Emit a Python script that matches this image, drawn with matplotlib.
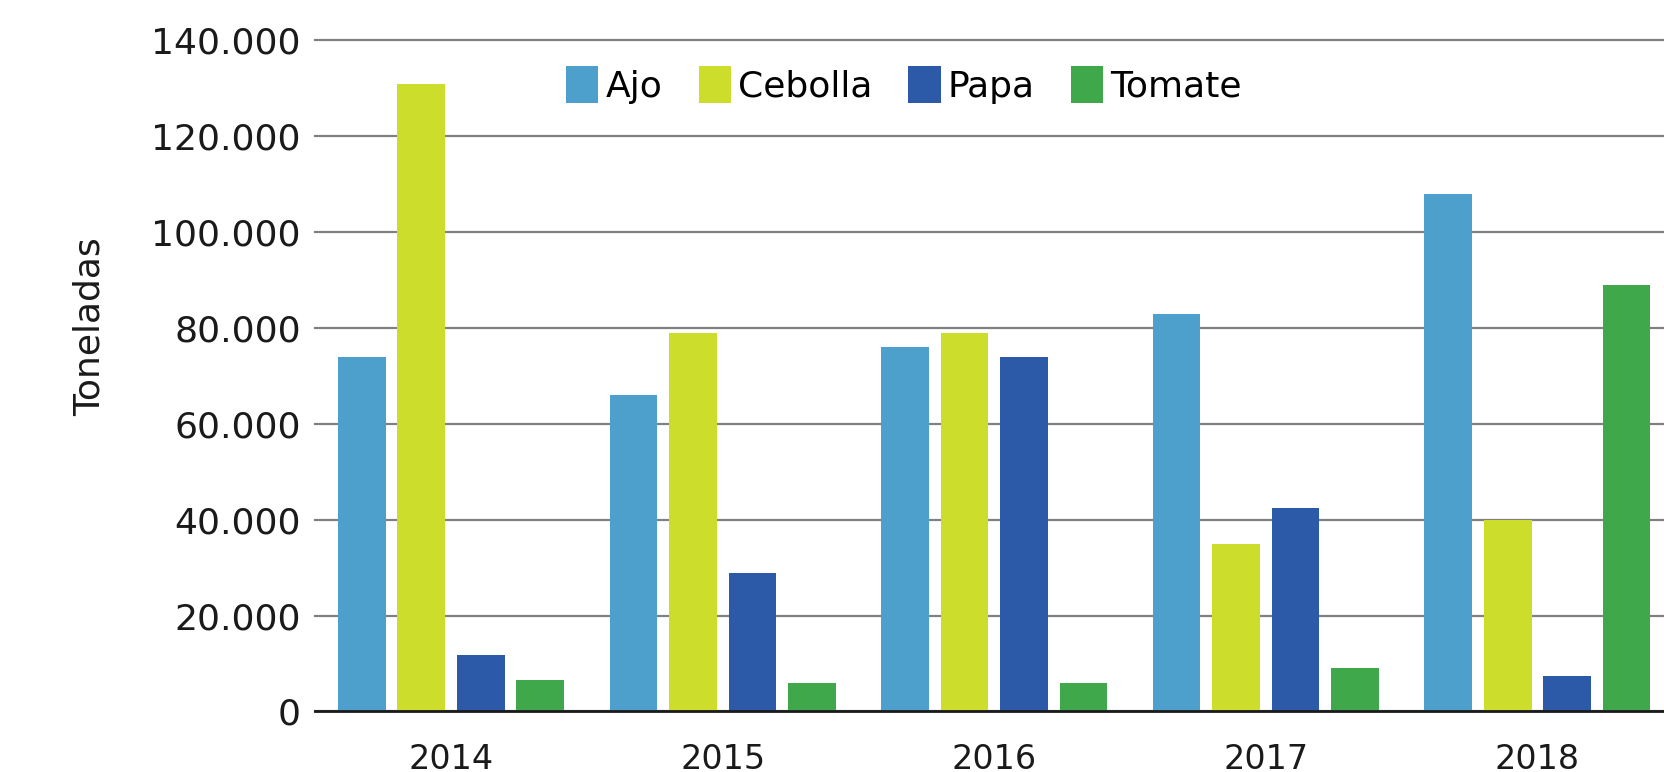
import matplotlib
matplotlib.use("Agg")
import matplotlib.pyplot as plt
import numpy as np
from matplotlib.ticker import FuncFormatter

years = ["2014", "2015", "2016", "2017", "2018"]
ajo = [74000, 66000, 76000, 83000, 108000]
cebolla = [131000, 79000, 79000, 35000, 40000]
papa = [11700, 28800, 74000, 42500, 7300]
tomate = [6600, 6000, 6000, 9100, 89000]

series = [("Ajo", ajo, "#4da0cb"),
          ("Cebolla", cebolla, "#ccdd2b"),
          ("Papa", papa, "#2c5aa8"),
          ("Tomate", tomate, "#3fa84a")]

plt.rcParams['font.family'] = ['DejaVu Sans']

fig = plt.figure(figsize=(16.65, 7.72), dpi=100)
ax = fig.add_axes([0.1894, 0.0784, 0.8106, 0.8693])

x = np.arange(len(years))
width = 0.176
pitch = 0.219
for i, (name, vals, color) in enumerate(series):
    ax.bar(x + (i - 1.5) * pitch, vals, width, color=color, label=name, zorder=3)

ax.set_xlim(-0.5, 4.47)
ax.set_ylim(0, 140000)
ax.set_yticks(np.arange(0, 140001, 20000))
ax.yaxis.set_major_formatter(FuncFormatter(lambda v, p: f"{int(v):,}".replace(",", ".")))
ax.set_xticks(x)
ax.set_xticklabels(years)

ax.grid(axis="y", color="#808080", linewidth=1.6, zorder=0)
for gl in ax.get_ygridlines():
    gl.set_clip_on(False)
for s in ["top", "right", "left"]:
    ax.spines[s].set_visible(False)
ax.spines["bottom"].set_color("#1a1a1a")
ax.spines["bottom"].set_linewidth(2)
ax.spines["bottom"].set_zorder(4)

ax.tick_params(axis="both", length=0, labelsize=26, colors="#1a1a1a")
ax.tick_params(axis="x", pad=23, labelsize=24)
ax.tick_params(axis="y", pad=10.5)

ax.set_ylabel("Toneladas", fontsize=26, color="#1a1a1a")
ax.yaxis.set_label_coords(-0.155, 0.574)

ax.legend(loc="upper center", bbox_to_anchor=(904 / 1665, 1 - 66 / 772),
          bbox_transform=fig.transFigure, ncol=4, frameon=False, fontsize=26,
          handlelength=0.89, handleheight=1.2, handletextpad=0.2,
          columnspacing=1.0, borderaxespad=0, borderpad=0)

fig.savefig("out.png", dpi=100)
